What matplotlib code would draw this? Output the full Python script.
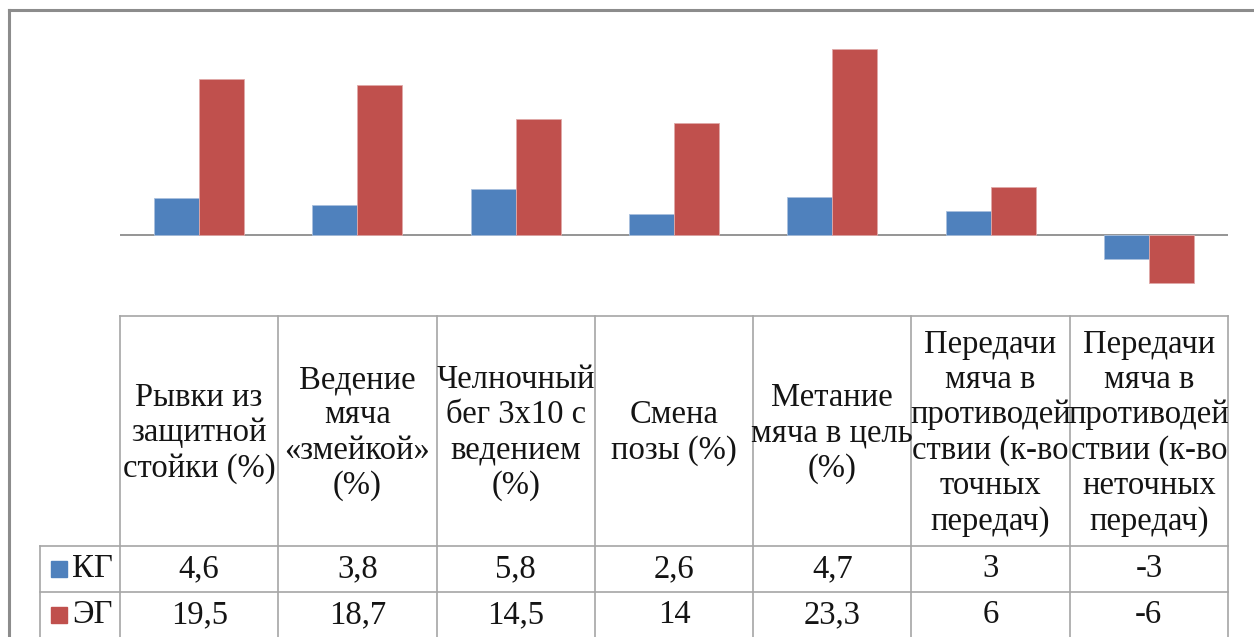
import numpy as np
import matplotlib.pyplot as plt
from matplotlib.patches import Rectangle
from matplotlib.lines import Line2D

plt.rcParams['font.family'] = ['Liberation Serif', 'DejaVu Serif']

categories = ["Рывки из\nзащитной\nстойки (%)",
              "Ведение\nмяча\n«змейкой»\n(%)",
              "Челночный\nбег 3х10 с\nведением\n(%)",
              "Смена\nпозы (%)",
              "Метание\nмяча в цель\n(%)",
              "Передачи\nмяча в\nпротиводей\nствии (к-во\nточных\nпередач)",
              "Передачи\nмяча в\nпротиводей\nствии (к-во\nнеточных\nпередач)"]
kg = [4.6, 3.8, 5.8, 2.6, 4.7, 3, -3]
eg = [19.5, 18.7, 14.5, 14, 23.3, 6, -6]
kg_labels = ["4,6", "3,8", "5,8", "2,6", "4,7", "3", "-3"]
eg_labels = ["19,5", "18,7", "14,5", "14", "23,3", "6", "-6"]
series = [("КГ", kg, kg_labels, "#4F81BD"), ("ЭГ", eg, eg_labels, "#C0504D")]

W, H = 1254, 637
fig = plt.figure(figsize=(W / 100, H / 100), dpi=100)

def fx(px):
    return px / W

def fy(py):
    return 1 - py / H

# outer frame, open at the right and bottom edges
fig.add_artist(Line2D([fx(9), fx(9)], [fy(10), fy(H + 5)], color="#8c8c8c", lw=2.2))
fig.add_artist(Line2D([fx(9), fx(W + 5)], [fy(10), fy(10)], color="#8c8c8c", lw=2.2))

left, right = 120, 1228
plot_top, plot_bot = 35, 315
ax = fig.add_axes([fx(left), fy(plot_bot), fx(right - left), (plot_bot - plot_top) / H])
n = len(categories)
x = np.arange(n)
bw = 0.284
ax.bar(x - bw / 2, kg, bw, color=series[0][3], edgecolor="#a9c0de", linewidth=0.6)
ax.bar(x + bw / 2, eg, bw, color=series[1][3], edgecolor="#e0a9a8", linewidth=0.6)
ax.axhline(0, color="#8c8c8c", lw=1.3, zorder=0)
ax.set_xlim(-0.5, n - 0.5)
ax.set_ylim(-10, 25)
ax.axis("off")

# data table under the plot
tab_top, head_bot, row1_bot, row2_bot = 316, 546, 592, 638
legend_left = 40
tax = fig.add_axes([fx(left), 0, fx(right - left), fy(tab_top)])
tax.set_xlim(-0.5, n - 0.5)
tax.set_ylim(H, tab_top)
tax.axis("off")
leg_x = -0.5 - (left - legend_left) / ((right - left) / n)
lc = "#a6a6a6"
lk = dict(color=lc, lw=1.2, clip_on=False)
for i in range(n + 1):
    tax.plot([i - 0.5, i - 0.5], [tab_top, H + 5], **lk)
tax.plot([-0.5, n - 0.5], [tab_top, tab_top], **lk)
tax.plot([leg_x, n - 0.5], [head_bot, head_bot], **lk)
tax.plot([leg_x, n - 0.5], [row1_bot, row1_bot], **lk)
tax.plot([leg_x, leg_x], [head_bot, H + 5], **lk)

fs = 23.5
tc = "#141414"
for i, cat in enumerate(categories):
    tax.text(i, (tab_top + head_bot) / 2 + 2, cat, ha="center", va="center",
             fontsize=fs, linespacing=1.2, color=tc)

rows = [(head_bot + row1_bot) / 2, (row1_bot + row2_bot) / 2]
for (name, vals, labs, col), yc in zip(series, rows):
    for i, lab in enumerate(labs):
        tax.text(i, yc, lab, ha="center", va="center", fontsize=fs, color=tc)
    fig.add_artist(Rectangle((fx(51), fy(yc + 8)), fx(16), 16 / H, color=col))
    fig.text(fx(72), fy(yc), name, ha="left", va="center", fontsize=fs, color=tc)

fig.savefig("out.png", dpi=100, facecolor="white")
